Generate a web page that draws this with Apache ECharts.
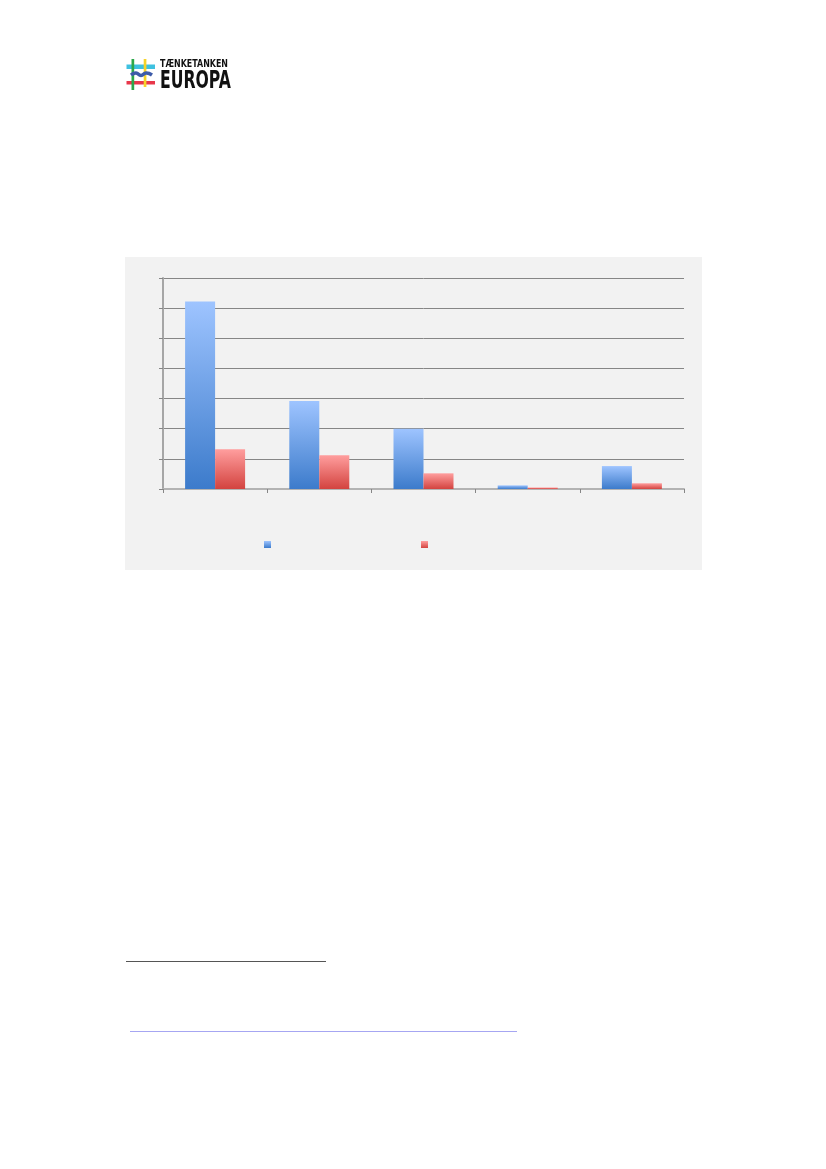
<!DOCTYPE html>
<html>
<head>
<meta charset="utf-8">
<script src="https://cdn.jsdelivr.net/npm/echarts@6/dist/echarts.min.js"></script>
<style>
html,body{margin:0;padding:0;background:#fff;}
#c{width:826px;height:1169px;}
</style>
</head>
<body>
<div id="c"></div>
<script>
const categories = ['A', 'B', 'C', 'D', 'E'];
const seriesBlue = [62.2, 29.2, 20.0, 1.2, 7.6];
const seriesRed = [13.2, 11.2, 5.2, 0.5, 1.9];
const yTicks = [0, 10, 20, 30, 40, 50, 60, 70];

const chart = echarts.init(document.getElementById('c'), null, {renderer: 'canvas'});

function grad(top, bottom) {
  return new echarts.graphic.LinearGradient(0, 0, 0, 1, [
    {offset: 0, color: top}, {offset: 1, color: bottom}
  ]);
}
const blueGrad = grad('#9EC4FF', '#3C7BCB');
const redGrad = grad('#FF9E9E', '#D3433F');

const ctx = document.createElement('canvas').getContext('2d');
function fitScale(text, font, target) {
  ctx.font = font;
  const w = ctx.measureText(text).width;
  return w > 0 ? target / w : 1;
}
const fontSmall = 'bold 11px "DejaVu Sans", sans-serif';
const fontBig = 'bold 24px "DejaVu Sans", sans-serif';
const sSmall = fitScale('TÆNKETANKEN', fontSmall, 68);
const sBig = fitScale('EUROPA', fontBig, 71);

chart.setOption({
  backgroundColor: '#ffffff',
  animation: false,
  graphic: [
    {type: 'rect', shape: {x: 125, y: 257, width: 577, height: 313}, style: {fill: '#F2F2F2'}, z: -10},
    // logo
    {type: 'rect', shape: {x: 126.5, y: 64.5, width: 28.5, height: 4.5}, style: {fill: '#3EC1E0'}, z: 1},
    {type: 'rect', shape: {x: 126.5, y: 81, width: 28.5, height: 3.5}, style: {fill: '#E8374A'}, z: 1},
    {type: 'rect', shape: {x: 131.5, y: 59, width: 2.7, height: 31}, style: {fill: '#2BA84A'}, z: 2},
    {type: 'rect', shape: {x: 143.7, y: 59, width: 2.7, height: 28}, style: {fill: '#F6D32A'}, z: 2},
    {type: 'polyline', shape: {points: [[131, 75], [136, 73], [141, 75.5], [146, 73], [152, 75]], smooth: 0.5}, style: {stroke: '#3D5BA9', lineWidth: 3.5, fill: null}, z: 3},
    {type: 'text', x: 160, y: 59, scaleX: sSmall, originX: 0, style: {x: 0, y: 0, text: 'TÆNKETANKEN', font: fontSmall, fill: '#111', verticalAlign: 'top'}},
    {type: 'text', x: 160, y: 69.5, scaleX: sBig, originX: 0, style: {x: 0, y: 0, text: 'EUROPA', font: fontBig, fill: '#111', verticalAlign: 'top'}},
    // footnote separator and link underline
    {type: 'line', shape: {x1: 126, y1: 961.5, x2: 326, y2: 961.5}, style: {stroke: '#555555', lineWidth: 1}},
    {type: 'line', shape: {x1: 130, y1: 1031.5, x2: 517, y2: 1031.5}, style: {stroke: '#A6A6F2', lineWidth: 1}}
  ],
  legend: [
    {left: 264, top: 541, itemWidth: 7, itemHeight: 7, icon: 'rect', data: ['Serie 1'], formatter: function(){return '';}, textStyle: {fontSize: 1}, padding: 0, selectedMode: false},
    {left: 421, top: 541, itemWidth: 7, itemHeight: 7, icon: 'rect', data: ['Serie 2'], formatter: function(){return '';}, textStyle: {fontSize: 1}, padding: 0, selectedMode: false}
  ],
  grid: {left: 163, right: 142, top: 278, bottom: 680, containLabel: false},
  xAxis: {
    type: 'category',
    data: categories,
    boundaryGap: true,
    axisLine: {show: true, lineStyle: {color: '#B3B3B3', width: 2}},
    axisTick: {show: true, length: 4, lineStyle: {color: '#868686'}},
    axisLabel: {show: false}
  },
  yAxis: {
    type: 'value',
    min: yTicks[0],
    max: yTicks[yTicks.length - 1],
    interval: 10,
    axisLine: {show: true, lineStyle: {color: '#A6A6A6', width: 2}},
    axisTick: {show: true, length: 4, lineStyle: {color: '#868686'}},
    axisLabel: {show: false},
    splitLine: {show: true, lineStyle: {color: '#868686', width: 1}}
  },
  series: [
    {name: 'Serie 1', type: 'bar', data: seriesBlue, barWidth: 30, barGap: '0%', itemStyle: {color: blueGrad}},
    {name: 'Serie 2', type: 'bar', data: seriesRed, barWidth: 30, barGap: '0%', itemStyle: {color: redGrad}}
  ]
});
</script>
</body>
</html>
